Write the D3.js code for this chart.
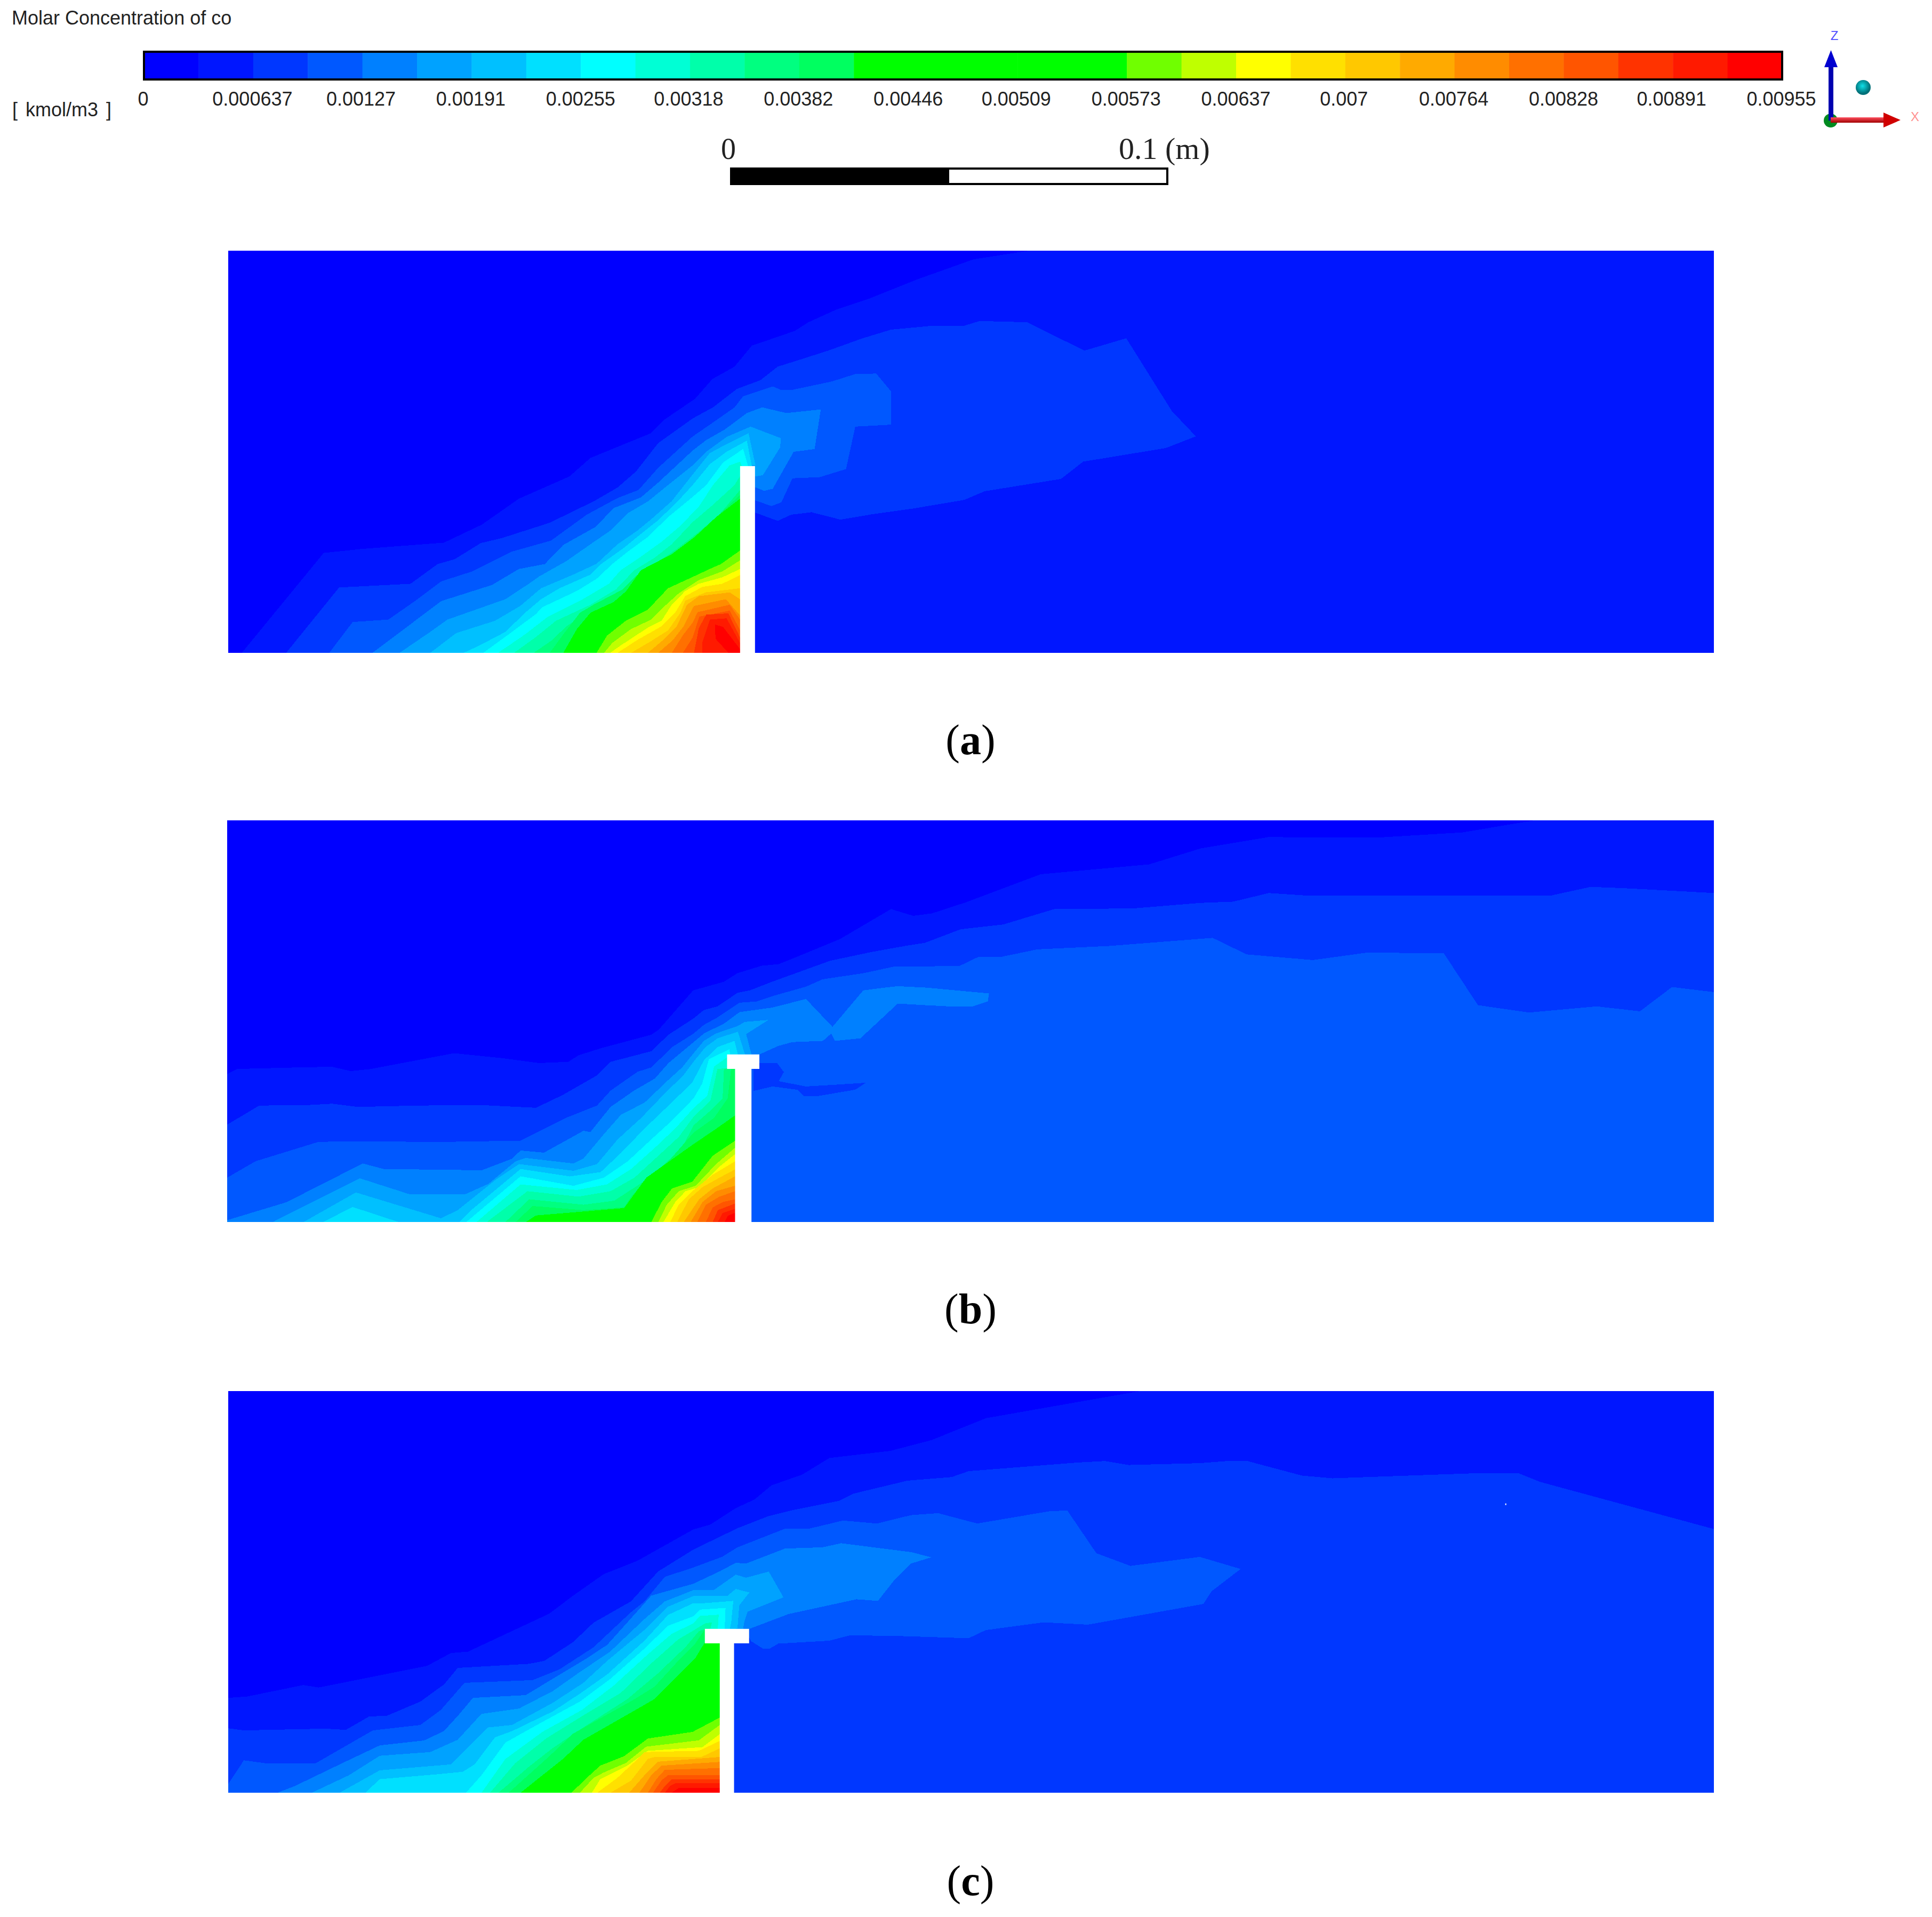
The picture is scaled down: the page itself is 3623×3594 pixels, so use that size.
<!DOCTYPE html>
<html>
<head>
<meta charset="utf-8">
<script src="https://cdn.jsdelivr.net/npm/d3@7"></script>
<style>
  html, body { margin: 0; background: #fff; }
  svg { display: block; }
</style>
</head>
<body>
<div id="chart"></div>
<script>
// colour bar: 30 bands, 15 labelled intervals
const barLabels = ["0", "0.000637", "0.00127", "0.00191", "0.00255", "0.00318", "0.00382", "0.00446", "0.00509", "0.00573", "0.00637", "0.007", "0.00764", "0.00828", "0.00891", "0.00955"];
const bandColors = ["#0000ff", "#0016ff", "#0037ff", "#0058ff", "#0080ff", "#00a2ff", "#00c0ff", "#00e0ff", "#00ffff", "#00ffd5", "#00ffaa", "#00ff80", "#00ff60", "#00ff00", "#00ff00", "#00ff00", "#00ff00", "#00ff00", "#70ff00", "#bfff00", "#ffff00", "#ffe000", "#ffc800", "#ffaa00", "#ff8c00", "#ff7000", "#ff5500", "#ff3300", "#ff1a00", "#ff0000"];

// contour regions: [band, outline], outline in grid units (0-1206 across, 0-326 down from the top).
// painted in order, each band over the one before it
const contoursA = [
  [0, [[0,0],[1206,0],[1206,326],[0,326]]],
  [1, [[11,326],[77.5,245],[109,241.7],[175,236.7],[206,222],[236,201],[277,183],[294,168],[343,148],[354,137],[379,120],[393,104],[411,94],[425,77],[460,65],[471,58],[493,48],[520,39],[530,35],[560,23],[605,7],[650,0],[1206,0],[1206,326]]],
  [2, [[47,326],[90,273],[148,270],[170,254],[184,250],[205,237],[222,233],[261,220.5],[297,203],[316,192],[331,179],[349,156],[377,136],[393.5,127],[413,112],[432,105],[446,94],[462,89],[487,81],[515,71],[538,64],[570,61],[597,61],[610,57],[648.5,58],[695,81],[729,71],[766,130],[785.5,150.5],[761,160],[694,171],[676,185],[614,195],[597.5,202],[556,209],[523,213.6],[497,218],[473.5,212],[457,214],[446,219],[428,212.4],[420,212],[420,326]]],
  [3, [[82,326],[101,301],[130,299],[153,283],[173,268],[198,260],[230,244],[262,235],[291,214],[316,200.5],[333,194],[349,176],[377,150.6],[391,141],[411,127],[418,118],[442,110],[449,113],[457,113],[490,106],[509,100],[526,99.6],[538,114],[538,141],[509,142.6],[501.5,177],[480,183.6],[458,184.5],[449,204],[441,207],[428,202.5],[420,202],[420,326]]],
  [4, [[117,326],[137,311],[173,284],[214,271],[236,258],[257,254],[272,238.5],[298,224],[313,208.6],[335,200],[349,188],[377,162],[388,153.5],[403,145],[421,131.6],[433.5,127],[453,131.6],[481,128.7],[476,160.8],[459,163],[442,193],[435,194.7],[428,191.8],[420,191],[420,326]]],
  [5, [[139,326],[164,309],[178,299],[225,282.5],[244,270],[252.5,264],[274.5,251.6],[294,238],[310,227],[324,213],[341,203],[357,190],[377,174],[388,163],[404.5,151],[424,142.6],[448.6,152],[448,159.5],[434,182],[428,183],[420,183],[420,326]]],
  [6, [[164,326],[185,310],[216.5,300],[237,288],[254,273.6],[280,262.6],[299,253.8],[316,238],[332,227],[343,218],[360,203],[377,181.4],[391,164],[406,156],[422.4,148],[428,174],[420,174],[420,326]]],
  [7, [[191,326],[204,320],[225,309],[241,293.5],[254,282.5],[269,273.6],[294,262.6],[303,253.8],[321,241],[332,232],[349,218.5],[365,203],[377,190],[391,173],[404.5,163],[421,154],[425,174.6],[420,175],[420,326]]],
  [8, [[207,326],[227.6,311],[249.7,294.6],[255,289],[283,275.8],[299,266],[312,253.8],[323,245],[341,231.7],[357,216],[377,199.6],[388,190],[401.7,171.7],[418,160.7],[422,174.6],[420,175],[420,326]]],
  [9, [[219,326],[241,311],[259.3,296.8],[288,282.4],[309,270],[318.6,259],[335,248],[351.7,236],[367,223],[382,207.5],[393.5,190],[407,174],[415.5,171],[417,174.6],[420,175],[420,326]]],
  [10, [[232,326],[250,313],[266,300],[294,287],[314.6,274.7],[329.6,259],[346,249],[360,238],[377,220],[393,206.4],[411,190],[415.5,182.6],[420,182],[420,326]]],
  [11, [[248,326],[263,315.6],[274.5,304.5],[291,293.5],[321,278],[327,269],[343,256],[362.7,242.8],[382,228],[398.5,214],[415.5,194],[420,194],[420,326]]],
  [12, [[261,326],[272,311],[285.5,293.5],[296.5,287],[320,274.7],[331,263.7],[354.4,250.5],[373.7,236],[390,221.8],[415.5,198],[420,198],[420,326]]],
  [13, [[272,326],[283,306.7],[294,293.5],[313,284.7],[323,276],[335,259],[360,246],[379,231.8],[396,216],[415.5,201],[420,201],[420,326]]],
  [18, [[299,326],[307.5,312],[322.7,300],[340.6,291],[357,273.6],[373.7,266],[393,257],[400,254],[415.5,243],[420,243],[420,326]]],
  [19, [[305,326],[312,317.7],[327,306.7],[343.4,299],[354.4,288],[365.4,278],[382,267],[401,260],[415.5,251],[420,251],[420,326]]],
  [20, [[310,326],[318.6,320],[340.6,305.6],[351.7,300],[360,287],[371,275.8],[382,270],[401,264.8],[415.5,258],[420,258],[420,326]]],
  [21, [[316,326],[332,315.6],[351.7,304.5],[362.7,293.5],[371,280],[385,272.5],[401,270],[415.5,263],[420,263],[420,326]]],
  [22, [[327,326],[343,316.6],[357,307.8],[367,293.5],[371,283.6],[387.5,277],[415.5,273.6],[420,274],[420,326]]],
  [23, [[340.6,326],[353,315.6],[364,304.5],[372.4,287],[382,280],[407,277],[415.5,282.5],[420,283],[420,326]]],
  [24, [[349,326],[361,315.6],[369.6,304.5],[378,288],[404,282.5],[415.5,295.7],[420,296],[420,326]]],
  [25, [[360,326],[369.6,311],[377,301.5],[381,293],[407,287],[415.5,299],[420,300],[420,326]]],
  [26, [[369,326],[377,313.6],[382.4,296.6],[407,291.8],[415.5,307.5],[420,308],[420,326]]],
  [27, [[378,326],[382,306],[388,295],[406,294],[415.5,313.6],[420,314],[420,326]]],
  [28, [[385,326],[385,317],[391,299],[404.5,298],[415.5,318],[420,318],[420,326]]],
  [29, [[406,326],[395.6,314.6],[395,303],[401.7,305],[415.5,323],[420,323],[420,326]]]
];

const contoursB = [
  [0, [[0,0],[1206,0],[1206,326],[0,326]]],
  [1, [[0,206],[8,201.8],[55,200.6],[85,200],[100,203.5],[115.5,202],[184,189],[223,193],[253,197],[276.7,196],[285,190.7],[303,185],[344,174],[350,170],[378,138],[403,131],[414,124],[433.6,118],[447.4,116.7],[464,110],[497,96.4],[538.5,72],[556.5,77.5],[571.7,75.5],[599,66.6],[660,43.7],[748,35.7],[789.6,22.8],[845,13.5],[870,13.8],[936,13.8],[1002,9.8],[1060,0],[1206,0],[1206,326],[0,326]]],
  [2, [[0,247],[26,231.5],[67,231],[85,230],[106,232.6],[154,231.5],[204,231],[250.5,233.3],[272.6,222.7],[300,207],[311,196],[344,187.4],[358,174],[378,161],[386.7,154],[397.7,151],[414,140],[424,138],[442,131],[489,114],[522,107],[549.6,102],[566,99.4],[595,88.4],[629.6,84.5],[671,72],[734.6,71.5],[789.6,67],[816,66],[845,59],[875,61],[1074,61],[1106,54],[1132,55],[1206,59],[1206,326],[0,326]]],
  [3, [[0,290],[23,276.7],[74,261],[93.4,260.6],[176,261],[238,260],[275,241.4],[300,231.5],[311,219.4],[333,204],[344,200.6],[361,184],[378.4,173],[386.7,166],[397.7,160],[415.7,148],[429.5,147],[444.7,142],[469.5,135],[483,129],[516.5,124],[541.3,118.6],[593.8,118.3],[609,111],[627,111],[657.3,104.7],[715,102],[799.4,95.4],[827,108.8],[880.7,113.4],[925,107.3],[987,108],[1014.6,150],[1056,156],[1111,151],[1146,155],[1172,135.3],[1206,139.4],[1206,326],[0,326]]],
  [2, [[426.7,196.8],[446,196.8],[451.6,204.3],[447.4,211.7],[469.5,216],[491.6,214.7],[518,213],[509.5,218.6],[478,224],[468,224],[462.6,218.7],[442.5,216],[427,219.6]]],
  [4, [[0,324.5],[48,310],[110,278.5],[127,283],[206.5,284],[231,274.7],[238,268],[257,269.7],[289,252],[294.6,253],[311,232.6],[330,219.4],[347,209.5],[358,197],[378.4,180],[386.7,173],[403,165],[415.7,155.6],[442,152],[469.5,145],[491,167.6],[516,138],[533,135.8],[544,134.6],[567.5,135.8],[618,140.5],[617,147],[604.8,151],[585.5,151],[566,150],[544,148.7],[513.7,176.9],[493,179],[490,173],[483.3,179],[458.5,180],[447.4,183],[431.7,190],[420,190],[420,326],[0,326]]],
  [5, [[37,326],[107.5,290.5],[148,303.5],[193,303.5],[212,295],[234,276.7],[242,274],[281,278.5],[289,274.5],[305.6,254.7],[319.4,239],[338.7,229],[358,210.6],[369,200.6],[378.4,189],[386.7,179],[396.4,173],[414,167],[419.8,163.6],[439,162],[421,173.5],[425.3,190],[420,190],[420,326]]],
  [6, [[62,326],[104.4,302],[173.4,323],[187,316.4],[217.4,292],[236.7,279],[281,284.4],[300,279],[316.7,259],[336,241.4],[355,221.6],[370,207],[378.4,195.8],[388,184],[397.7,177],[414.3,171.5],[420,190],[420,326]]],
  [7, [[78,326],[101.7,313.8],[139,326]]],
  [7, [[188.5,326],[198,316.4],[238,283],[278,289],[303,285.5],[319.4,270],[338.7,250],[358,231.5],[377.3,212.8],[386.7,194.8],[397.7,184],[411.5,179],[414.3,190],[420,190],[420,326]]],
  [8, [[194,326],[238,288.9],[281,296.6],[305.6,290],[325,276.7],[344,259],[360.8,243.7],[378.4,225.6],[385.3,213.7],[390.8,193.8],[407.4,185.8],[408,190],[420,190],[420,326]]],
  [9, [[202.3,326],[238,295.5],[283.6,300],[308,295.5],[327.7,283],[347,265.7],[363.5,250],[378.4,233.5],[389.4,223.6],[395,199.8],[406,192],[420,192],[420,326]]],
  [10, [[210.6,326],[243.6,301],[285,305.4],[311,301],[330.4,290],[349.7,272.3],[366.3,257],[378.4,240.5],[392,227.6],[397.7,201.7],[405.5,201.3],[420,201.3],[420,326]]],
  [11, [[225.7,326],[245,307.6],[289,312],[314,308.7],[336,294.4],[352.5,281],[369,265.7],[378.4,247.5],[392,235.6],[401.9,225.6],[403,201.7],[407,201.3],[420,201.3],[420,326]]],
  [12, [[234,326],[247.8,313],[289,316.4],[322,314],[327.7,305.4],[341.5,290],[358,276.7],[378.4,253.4],[395,241.5],[406,225.6],[408.8,201.7],[412,201.3],[420,201.3],[420,326]]],
  [13, [[242.3,326],[250.5,320.7],[322,314.7],[340,290],[378,263],[395,251.5],[412,239.5],[418,239.5],[418,326]]],
  [18, [[344,326],[352.5,309.8],[360.8,298.8],[377.3,293.3],[393.8,272.3],[412,260],[418,260],[418,326]]],
  [19, [[349.7,326],[356.6,312],[366.3,301],[380,296.6],[396.6,279],[412,265.7],[418,265.7],[418,326]]],
  [20, [[353.9,326],[363.5,309.8],[371.8,301],[382.8,297.7],[399.4,281],[412,271],[418,271],[418,326]]],
  [21, [[359.4,326],[366.3,312],[377.3,301],[393.8,287.7],[412,276.7],[418,276.7],[418,326]]],
  [22, [[365,326],[374.5,307.6],[385.6,297.7],[399.4,290],[412,283.3],[418,283.3],[418,326]]],
  [23, [[370.4,326],[382.8,307.6],[393.8,298.8],[412,288.9],[418,288.9],[418,326]]],
  [24, [[376,326],[385.6,309.8],[396.6,301],[412,296.6],[418,296.6],[418,326]]],
  [25, [[381.4,326],[388.3,312],[399.4,305.4],[412,301],[418,301],[418,326]]],
  [26, [[388.3,326],[393.8,314.2],[402,309.8],[412,307.6],[418,307.6],[418,326]]],
  [27, [[393.8,326],[398,316.4],[412,311],[418,311],[418,326]]],
  [28, [[398,326],[402,318.6],[412,315.3],[418,315.3],[418,326]]],
  [29, [[403.5,326],[406,321],[412,318.6],[418,318.6],[418,326]]]
];

const contoursC = [
  [0, [[0,0],[1206,0],[1206,326],[0,326]]],
  [1, [[0,249],[15.4,247.9],[61,238.6],[73.3,240.6],[161.5,223],[180.8,212.6],[194.6,211.5],[260.7,180.6],[280,166],[304.8,148.6],[332.4,137.6],[377.5,112.3],[391.3,108.4],[412,95],[427.2,88],[441,76.5],[465.9,67.8],[488,54.3],[537.6,48.5],[570.8,39.8],[615,22],[740,0],[1206,0],[1206,326],[0,326]]],
  [2, [[0,273.7],[12.7,275.4],[78.8,274],[95.4,275],[114.6,264],[128.4,263.7],[156,252],[175.3,238],[186.3,224.7],[244,221.4],[256.6,219],[280,203.7],[296.5,188],[326.9,170.7],[349,146.4],[377.5,128.7],[391.3,122],[413.4,111.3],[438,101.7],[457.6,96.8],[496.2,89],[507.3,83.3],[551.4,72.7],[587.3,69.8],[601,65],[689.5,58],[711.6,56.8],[731,60],[788.7,58.5],[810.8,56.8],[827.4,56.8],[871.5,68.6],[896.4,70.8],[1017.9,66.5],[1047,66.5],[1064.8,73.7],[1206,112],[1206,326],[0,326]]],
  [3, [[0,318.8],[12.7,299.7],[32,302.3],[70.6,302.3],[117.4,275.4],[156,271],[172.5,258.9],[191.8,236.8],[247,234.6],[269,225.8],[296.5,208],[326.9,179.5],[337.9,170.7],[354.4,150.8],[377.5,143.2],[401,134.5],[413.4,126.8],[452,111.7],[471.4,111.7],[499,105.1],[526.6,107.5],[554.2,100.7],[576.3,99.1],[608,107.5],[667.4,97.4],[681.2,97],[704.7,131.6],[732.3,141.9],[788.7,134.6],[821.8,144.4],[798.4,162.4],[791.5,172.8],[697.8,189.6],[661.9,187.7],[615,194],[601,200.6],[540.4,198.7],[504.5,198.3],[488,202.6],[446.5,205],[439.6,209],[434,209],[424.4,203],[422.8,200],[405,200],[405,326],[0,326]]],
  [4, [[40,326],[54,320.6],[92.6,302],[123,287.6],[159,283.6],[175,276],[186.3,263.7],[198.7,249],[241.4,246.8],[263.5,233.5],[291,217],[307.6,206],[332.4,178.4],[343.4,166],[377.5,156.4],[399.6,146],[412,139.4],[420.3,140],[452,127.8],[482.4,126.8],[497.6,123.5],[554.2,130.7],[570.8,134.9],[554.2,140],[540.4,153.8],[527.4,170.3],[510,169],[454.8,181],[424.4,192.5],[422.8,193],[405,195],[405,326]]],
  [5, [[67.8,326],[98,311.8],[123,296],[164,293],[186.3,283],[205.6,262],[236,257.7],[263.5,243.5],[285.5,228],[310,211.5],[337.9,185],[354.4,170.7],[377.5,161.6],[394,161.6],[412,149],[420.3,151.5],[438.8,146.5],[450.7,167.4],[421.7,179],[419,186.7],[418,193],[405,195],[405,326]]],
  [6, [[90.4,326],[123,307.8],[180.8,303],[211,273],[230.4,271],[263.5,253],[288.3,236.8],[307.6,219],[337.9,193.8],[357,175],[377.5,166.4],[405,166.4],[412,160.6],[423,163.5],[414.8,174],[413.4,192.5],[405,195],[405,326]]],
  [7, [[111.3,326],[123,315],[170,311],[190.4,309],[200,303],[216.6,281],[230.4,276],[263.5,260],[285.5,245.6],[307.6,230],[337.9,202.6],[357,181.7],[377.5,172.2],[385.8,172.2],[410,170.3],[408.4,186.7],[407.3,193],[405,195],[405,326]]],
  [8, [[193,326],[205.6,311.8],[225,285.3],[252.4,270],[285.5,252],[310.3,233.5],[337.9,209],[357,190.5],[377.5,182.8],[383,177.4],[403.7,176],[403,193],[403,326]]],
  [9, [[205.6,326],[225,298.6],[255.2,276.5],[287,258.9],[313,239],[340.6,213.7],[360,197],[377.5,188.6],[383,182.5],[398.2,181.5],[397.4,193],[403,195],[403,326]]],
  [10, [[212.5,326],[233,302],[258,282],[287,264],[318.6,245],[343.4,221],[365.4,201.5],[377.5,194.4],[387,188.6],[392.7,187.7],[391.3,193],[403,195],[403,326]]],
  [11, [[219.4,326],[244,305],[263.5,289.7],[288.3,273],[324,250],[349,229],[371,208],[382,195],[387,193],[403,195],[403,326]]],
  [12, [[227.6,326],[260,297],[280,278],[330,250],[346,240],[368,216],[379,205],[387,193],[403,195],[403,326]]],
  [13, [[237.3,326],[271.7,298.6],[288.3,283],[307.6,272],[346,250],[368,228],[379,217],[386.4,204.8],[403,204.8],[403,326]]],
  [18, [[278.6,326],[291,314],[302,304],[321.3,296.4],[340.6,282],[377,276.6],[399,265],[403,265],[403,326]]],
  [19, [[285.5,326],[296.5,314],[304.8,309.6],[322.7,301.9],[339.3,288.6],[382,283.5],[399,271],[403,271],[403,326]]],
  [20, [[295.2,326],[302,315],[324,304],[340.6,292],[385,289],[399,278.5],[403,278.5],[403,326]]],
  [21, [[299.5,326],[315.8,314],[332.4,298.6],[337.9,293],[382,292],[399,284],[403,284],[403,326]]],
  [22, [[310.3,326],[326.9,316.2],[340.6,298.6],[346,297],[384,297],[399,290],[403,290],[403,326]]],
  [23, [[325.5,326],[337.9,311.8],[349,300.8],[399,297],[403,297],[403,326]]],
  [24, [[333.8,326],[343.4,311.8],[351.7,304],[399,301],[403,301],[403,326]]],
  [25, [[340.6,326],[347.5,315],[354.4,307.4],[399,306],[403,306],[403,326]]],
  [26, [[344.8,326],[351.7,316],[357,311.8],[399,311.5],[403,311.5],[403,326]]],
  [27, [[350.3,326],[354.4,320.6],[360,315],[399,315],[403,315],[403,326]]],
  [28, [[354.4,326],[358.6,320.6],[362.7,318.4],[399,318.4],[403,318.4],[403,326]]],
  [29, [[360,326],[366,322],[399,322],[403,322],[403,326]]]
];

// white baffle pieces, grid units: [x0, x1, y0, y1]
const wallA = [[415.5, 427.6, 174.6, 326]];
const wallB = [[405.5, 431.7, 190, 201.3], [412, 425.3, 201.3, 326]];
const wallC = [[386.9, 422.8, 193, 204.3], [399, 410.6, 204.3, 326]];
const speckC = [[1036.6, 91.2]];

const panelNames = ["a", "b", "c"];
const scaleBarTicks = [0, 0.05, 0.1];

function drawChart() {
    const W = 3623, H = 3594;

    const svg = d3.select("#chart").append("svg")
        .attr("width", W)
        .attr("height", H)
        .attr("viewBox", `0 0 ${W} ${H}`)
        .style("background", "#fff");

    const sans = "'Liberation Sans', Arial, sans-serif";
    const serif = "'Liberation Serif', 'Times New Roman', serif";

    // ---- colour bar
    const bar = { left: 270, right: 3342, top: 97, bottom: 149 };
    const barMax = +barLabels[barLabels.length - 1];
    const xBar = d3.scaleLinear().domain([0, barMax]).range([bar.left, bar.right]);
    const bandColor = d3.scaleOrdinal().domain(d3.range(bandColors.length)).range(bandColors);
    const bandStep = barMax / bandColors.length;

    svg.append("g").selectAll("rect")
        .data(d3.range(bandColors.length))
        .enter()
        .append("rect")
        .attr("x", d => xBar(d * bandStep))
        .attr("y", bar.top)
        .attr("width", d => xBar((d + 1) * bandStep) - xBar(d * bandStep) + 0.5)
        .attr("height", bar.bottom - bar.top)
        .attr("fill", d => bandColor(d));

    svg.append("rect")
        .attr("x", bar.left)
        .attr("y", bar.top)
        .attr("width", bar.right - bar.left)
        .attr("height", bar.bottom - bar.top)
        .attr("fill", "none")
        .attr("stroke", "#000")
        .attr("stroke-width", 4);

    const barAxis = d3.axisBottom(xBar)
        .tickValues(barLabels.map(Number))
        .tickFormat((d, i) => barLabels[i])
        .tickSize(0)
        .tickPadding(0);

    const barAxisG = svg.append("g")
        .attr("transform", "translate(-2,172)")
        .call(barAxis);
    barAxisG.select(".domain").remove();
    barAxisG.selectAll("text")
        .attr("dy", "0.72em")
        .style("font-family", sans)
        .style("font-size", "36px")
        .style("fill", "#222");

    svg.append("text")
        .attr("x", 22).attr("y", 46)
        .style("font-family", sans).style("font-size", "36px").style("fill", "#222")
        .text("Molar Concentration of co");

    svg.append("text")
        .attr("x", 23).attr("y", 218)
        .style("font-family", sans).style("font-size", "36px").style("fill", "#222")
        .style("word-spacing", "5px")
        .text("[ kmol/m3 ]");

    // ---- scale bar
    const xScaleBar = d3.scaleLinear().domain([0, 0.1]).range([1371, 2189]);
    svg.append("rect")
        .attr("x", xScaleBar(scaleBarTicks[0])).attr("y", 316)
        .attr("width", xScaleBar(scaleBarTicks[2]) - xScaleBar(scaleBarTicks[0]))
        .attr("height", 29)
        .attr("fill", "#fff").attr("stroke", "#000").attr("stroke-width", 4);
    svg.append("rect")
        .attr("x", xScaleBar(scaleBarTicks[0])).attr("y", 316)
        .attr("width", xScaleBar(scaleBarTicks[1]) - xScaleBar(scaleBarTicks[0]))
        .attr("height", 29)
        .attr("fill", "#000");

    svg.append("text")
        .attr("x", 1366).attr("y", 298)
        .attr("text-anchor", "middle")
        .style("font-family", serif).style("font-size", "56px").style("fill", "#222")
        .text("0");
    svg.append("text")
        .attr("x", 2098).attr("y", 298)
        .style("font-family", serif).style("font-size", "58px").style("fill", "#222")
        .text("0.1 (m)");

    // ---- contour panels
    const panels = [
        { left: 428, top: 470, bottom: 1224, contours: contoursA, wall: wallA, speck: [], captionY: 1414 },
        { left: 426, top: 1538, bottom: 2291, contours: contoursB, wall: wallB, speck: [], captionY: 2481 },
        { left: 428, top: 2608, bottom: 3361, contours: contoursC, wall: wallC, speck: speckC, captionY: 3553 }
    ];

    panels.forEach((p, i) => {
        const x = d3.scaleLinear().domain([0, 1206]).range([p.left, 3214]);
        const y = d3.scaleLinear().domain([0, 326]).range([p.top, p.bottom]);
        const line = d3.line()
            .x(d => x(d[0]))
            .y(d => y(d[1]))
            .curve(d3.curveLinearClosed);

        const g = svg.append("g").attr("class", "panel");

        g.selectAll(".band")
            .data(p.contours)
            .enter()
            .append("path")
            .attr("class", "band")
            .attr("d", d => line(d[1]))
            .attr("fill", d => bandColor(d[0]))
            .attr("shape-rendering", "crispEdges");

        g.selectAll(".wall")
            .data(p.wall)
            .enter()
            .append("rect")
            .attr("class", "wall")
            .attr("x", d => x(d[0]))
            .attr("y", d => y(d[2]))
            .attr("width", d => x(d[1]) - x(d[0]))
            .attr("height", d => y(d[3]) - y(d[2]) + 1)
            .attr("fill", "#fff");

        g.selectAll(".speck")
            .data(p.speck)
            .enter()
            .append("rect")
            .attr("class", "speck")
            .attr("x", d => x(d[0]))
            .attr("y", d => y(d[1]))
            .attr("width", 2)
            .attr("height", 3)
            .attr("fill", "#fff");

        const caption = g.append("text")
            .attr("x", 1820)
            .attr("y", p.captionY)
            .attr("text-anchor", "middle")
            .style("font-family", serif)
            .style("font-size", "80px")
            .style("fill", "#000");
        caption.append("tspan").text("(");
        caption.append("tspan").style("font-weight", "bold").text(panelNames[i]);
        caption.append("tspan").text(")");
    });

    // ---- axis triad
    const triad = svg.append("g").attr("class", "triad");
    const defs = svg.append("defs");
    const ball = defs.append("radialGradient").attr("id", "ball").attr("cx", "45%").attr("cy", "40%");
    ball.append("stop").attr("offset", "0%").attr("stop-color", "#10e0e8");
    ball.append("stop").attr("offset", "100%").attr("stop-color", "#007078");
    const xShaft = defs.append("linearGradient").attr("id", "xshaft").attr("x1", 0).attr("x2", 0).attr("y1", 0).attr("y2", 1);
    xShaft.append("stop").attr("offset", "0%").attr("stop-color", "#ff5060");
    xShaft.append("stop").attr("offset", "100%").attr("stop-color", "#a00000");

    triad.append("ellipse")
        .attr("cx", 3433).attr("cy", 226).attr("rx", 13).attr("ry", 13)
        .attr("fill", "#008a20");
    triad.append("rect")
        .attr("x", 3429).attr("y", 120).attr("width", 9).attr("height", 106)
        .attr("fill", "#0000b0");
    triad.append("path")
        .attr("d", d3.line()([[3433.5, 94], [3446, 126], [3421, 126]]) + "Z")
        .attr("fill", "#0000d0");
    triad.append("rect")
        .attr("x", 3433).attr("y", 220).attr("width", 102).attr("height", 10)
        .attr("fill", "url(#xshaft)");
    triad.append("path")
        .attr("d", d3.line()([[3564, 225], [3532, 211], [3532, 239]]) + "Z")
        .attr("fill", "#d00000");
    triad.append("ellipse")
        .attr("cx", 3494).attr("cy", 164).attr("rx", 14).attr("ry", 14)
        .attr("fill", "url(#ball)");
    triad.append("text")
        .attr("x", 3440).attr("y", 75).attr("text-anchor", "middle")
        .style("font-family", sans).style("font-size", "24px").style("fill", "#5050ff")
        .text("Z");
    triad.append("text")
        .attr("x", 3591).attr("y", 227).attr("text-anchor", "middle")
        .style("font-family", sans).style("font-size", "24px").style("fill", "#ff9090")
        .text("X");
}

window.addEventListener("load", drawChart);
</script>
</body>
</html>
